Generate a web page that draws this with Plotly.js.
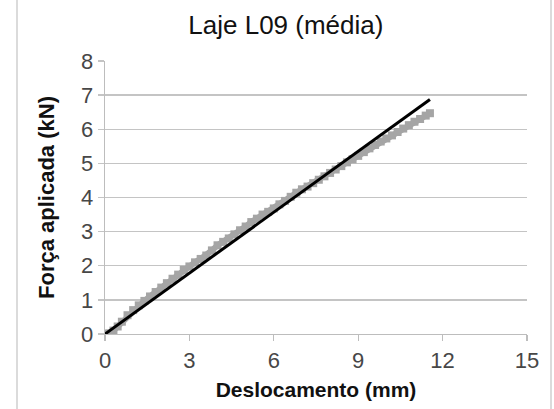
<!DOCTYPE html>
<html>
<head>
<meta charset="utf-8">
<script src="https://cdn.plot.ly/plotly-3.0.1.min.js"></script>
<style>
html,body{margin:0;padding:0;background:#fff;}
#chart{width:554px;height:409px;}
</style>
</head>
<body>
<div id="chart"></div>
<script>
// Measured data (gray): displacement (mm) and applied force (kN)
var dispMeasured = [0.00,0.15,0.30,0.45,0.60,0.80,1.00,1.20,1.40,1.60,1.80,2.00,2.20,2.40,2.60,2.80,3.00,3.20,3.40,3.60,3.80,4.00,4.20,4.40,4.60,4.80,5.00,5.20,5.40,5.60,5.80,6.00,6.20,6.40,6.60,6.80,7.00,7.20,7.40,7.60,7.80,8.00,8.20,8.40,8.60,8.80,9.00,9.20,9.40,9.60,9.80,10.00,10.20,10.40,10.60,10.80,11.00,11.20,11.40,11.55];
var forceMeasured = [0.00,0.02,0.10,0.22,0.36,0.55,0.70,0.84,0.97,1.10,1.23,1.36,1.49,1.62,1.74,1.88,1.98,2.10,2.20,2.30,2.45,2.60,2.70,2.80,2.92,3.04,3.15,3.28,3.38,3.50,3.58,3.68,3.80,3.90,4.02,4.14,4.24,4.32,4.42,4.52,4.62,4.72,4.82,4.92,5.03,5.12,5.22,5.33,5.44,5.54,5.64,5.73,5.82,5.92,6.02,6.12,6.22,6.30,6.40,6.47];
// Linear fit (black)
var dispFit = [0, 11.55];
var forceFit = [0, 6.87];

var xTicks = [0, 3, 6, 9, 12, 15];
var yTicks = [0, 1, 2, 3, 4, 5, 6, 7, 8];

var FONT = "Liberation Sans, Arial, sans-serif";

var traces = [
  {
    x: dispMeasured, y: forceMeasured,
    type: 'scatter', mode: 'lines+markers',
    line: {color: '#a5a5a5', width: 6},
    marker: {color: '#a5a5a5', size: 8, symbol: 'square'},
    hoverinfo: 'x+y', showlegend: false
  },
  {
    x: dispFit, y: forceFit,
    type: 'scatter', mode: 'lines',
    line: {color: '#000000', width: 3},
    showlegend: false
  }
];

var layout = {
  width: 554, height: 409,
  margin: {l: 105, r: 27, t: 61, b: 75, pad: 0},
  paper_bgcolor: '#ffffff',
  plot_bgcolor: '#ffffff',
  showlegend: false,
  font: {family: FONT, color: '#444444'},
  title: {
    text: 'Laje L09 (média)',
    font: {family: FONT, size: 26, color: '#111111'},
    x: 0.516, xref: 'container', xanchor: 'center',
    y: 1 - 25/409, yref: 'container', yanchor: 'middle'
  },
  xaxis: {
    range: [0, 15],
    tickvals: xTicks, ticktext: xTicks.map(String),
    showgrid: false, zeroline: false,
    showline: true, linecolor: '#bdbdbd', linewidth: 1.3,
    ticks: 'outside', ticklen: 6, tickcolor: '#bdbdbd', tickwidth: 1.3,
    tickfont: {family: FONT, size: 22, color: '#474747'},
    title: {text: 'Deslocamento (mm)', font: {family: FONT, size: 21, color: '#111111', weight: 'bold'}, standoff: 10}
  },
  yaxis: {
    range: [0, 8],
    tickvals: yTicks, ticktext: yTicks.map(String),
    showgrid: true, gridcolor: '#c4c4c4', gridwidth: 1.3,
    zeroline: false,
    showline: true, linecolor: '#bdbdbd', linewidth: 1.3,
    ticks: 'outside', ticklen: 6, tickcolor: '#c4c4c4', tickwidth: 1.3,
    tickfont: {family: FONT, size: 22, color: '#474747'},
    title: {text: 'Força aplicada (kN)', font: {family: FONT, size: 22, color: '#111111', weight: 'bold'}, standoff: 20}
  },
  shapes: [
    {type: 'line', xref: 'paper', yref: 'paper', x0: (17-105)/422, x1: (17-105)/422, y0: -0.3, y1: 1.25,
     line: {color: '#cfcfcf', width: 1.5}},
    {type: 'line', xref: 'paper', yref: 'paper', x0: (551-105)/422, x1: (551-105)/422, y0: -0.3, y1: 1.25,
     line: {color: '#cfcfcf', width: 1.5}}
  ]
};

Plotly.newPlot('chart', traces, layout, {displayModeBar: false, staticPlot: true});
</script>
</body>
</html>
